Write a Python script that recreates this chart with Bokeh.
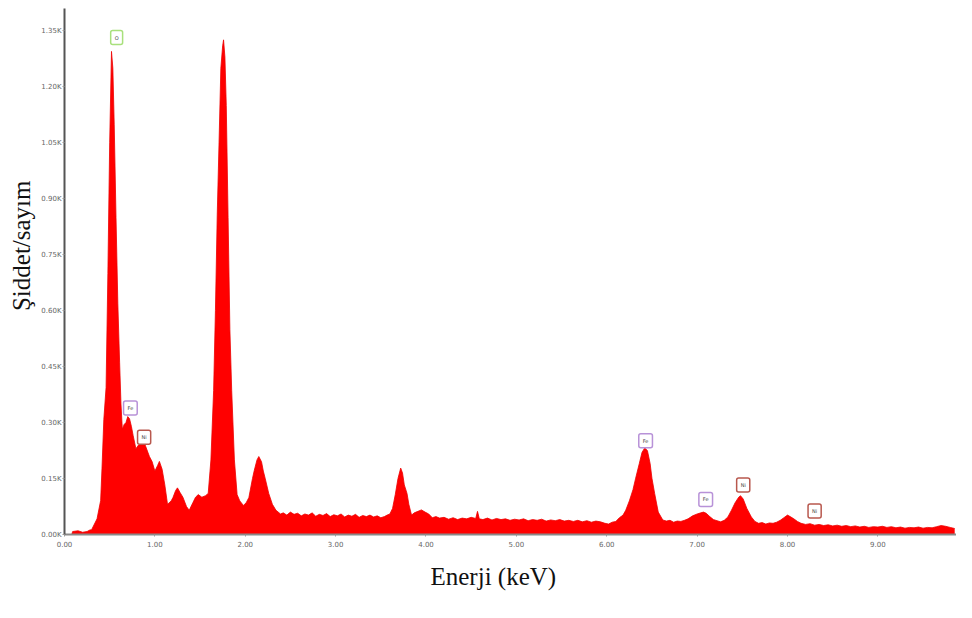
from bokeh.plotting import figure
from bokeh.models import Range1d, FixedTicker, Label, Title
from bokeh.embed import file_html
from bokeh.resources import INLINE

# ---- data ----
energy_kev = [
    0.00, 0.08, 0.09, 0.15, 0.20, 0.25, 0.28, 0.30, 0.36, 0.40, 0.415, 0.435, 0.46, 0.48,
    0.50, 0.52, 0.535, 0.55, 0.57, 0.59, 0.61, 0.625, 0.64, 0.66, 0.68, 0.70, 0.72, 0.74,
    0.76, 0.79, 0.82, 0.86, 0.88, 0.90, 0.94, 0.97, 1.00, 1.03, 1.05, 1.08, 1.11, 1.14,
    1.18, 1.20, 1.23, 1.25, 1.28, 1.31, 1.35, 1.38, 1.42, 1.45, 1.48, 1.52, 1.56, 1.59,
    1.62, 1.65, 1.67, 1.69, 1.71, 1.73, 1.75, 1.76, 1.775, 1.79, 1.81, 1.83, 1.85, 1.88,
    1.91, 1.94, 1.98, 2.01, 2.04, 2.08, 2.10, 2.13, 2.15, 2.18, 2.20, 2.22, 2.26, 2.30,
    2.34, 2.39, 2.42, 2.46, 2.50, 2.54, 2.58, 2.62, 2.66, 2.70, 2.74, 2.78, 2.82, 2.86,
    2.90, 2.94, 2.98, 3.02, 3.06, 3.10, 3.14, 3.18, 3.22, 3.26, 3.30, 3.34, 3.38, 3.42,
    3.46, 3.50, 3.54, 3.57, 3.60, 3.63, 3.66, 3.69, 3.72, 3.74, 3.76, 3.79, 3.81, 3.84,
    3.87, 3.91, 3.95, 3.99, 4.03, 4.07, 4.11, 4.15, 4.20, 4.25, 4.30, 4.35, 4.40, 4.45,
    4.50, 4.55, 4.57, 4.59, 4.63, 4.68, 4.73, 4.78, 4.83, 4.88, 4.93, 4.98, 5.03, 5.08,
    5.13, 5.18, 5.23, 5.28, 5.33, 5.38, 5.43, 5.48, 5.53, 5.58, 5.63, 5.68, 5.73, 5.78,
    5.83, 5.88, 5.93, 5.98, 6.02, 6.06, 6.10, 6.14, 6.18, 6.21, 6.25, 6.29, 6.32, 6.36,
    6.39, 6.42, 6.45, 6.48, 6.50, 6.53, 6.57, 6.62, 6.66, 6.70, 6.74, 6.78, 6.82, 6.86,
    6.90, 6.95, 7.00, 7.04, 7.07, 7.10, 7.14, 7.18, 7.22, 7.26, 7.30, 7.34, 7.38, 7.42,
    7.46, 7.48, 7.51, 7.55, 7.60, 7.64, 7.68, 7.72, 7.76, 7.80, 7.84, 7.88, 7.92, 7.96,
    8.00, 8.03, 8.07, 8.11, 8.15, 8.20, 8.25, 8.30, 8.35, 8.40, 8.45, 8.50, 8.55, 8.60,
    8.65, 8.70, 8.75, 8.80, 8.85, 8.90, 8.95, 9.00, 9.05, 9.10, 9.15, 9.20, 9.25, 9.30,
    9.35, 9.40, 9.45, 9.50, 9.55, 9.60, 9.65, 9.70, 9.75, 9.80, 9.85,
]
counts = [
    0, 0, 8, 10, 6, 8, 12, 13, 42, 91, 178, 308, 394, 700,
    1050, 1295, 1250, 1100, 850, 620, 460, 350, 282, 295, 300, 316, 310, 290,
    265, 230, 240, 245, 248, 235, 209, 195, 170, 185, 196, 175, 133, 81,
    90, 99, 118, 125, 112, 100, 75, 65, 85, 100, 107, 100, 104, 110,
    200, 386, 600, 856, 1050, 1250, 1310, 1326, 1280, 1150, 850, 550, 386, 200,
    107, 90, 78, 85, 99, 150, 172, 200, 209, 195, 170, 151, 110, 81,
    65, 55, 58, 52, 60, 54, 57, 50, 55, 52, 58, 49, 54, 51,
    56, 48, 53, 50, 55, 47, 52, 49, 54, 46, 51, 48, 52, 47,
    50, 45, 48, 52, 55, 70, 107, 150, 178, 165, 133, 110, 81, 52,
    58, 62, 66, 60, 55, 45, 48, 44, 46, 41, 45, 40, 44, 42,
    46, 43, 62, 42, 40, 44, 39, 43, 40, 42, 38, 41, 39, 42,
    37, 40, 38, 41, 36, 39, 37, 40, 36, 38, 35, 38, 34, 37,
    33, 36, 34, 30, 28, 33, 35, 45, 52, 65, 90, 120, 151, 190,
    220, 232, 225, 190, 151, 110, 60, 39, 36, 38, 33, 36, 35, 38,
    42, 50, 55, 58, 60, 57, 48, 40, 37, 34, 38, 47, 65, 85,
    100, 104, 95, 70, 47, 35, 30, 32, 28, 31, 30, 33, 38, 45,
    52, 48, 42, 35, 30, 27, 29, 25, 27, 24, 26, 23, 25, 22,
    24, 21, 23, 20, 22, 19, 21, 20, 22, 19, 21, 18, 20, 17,
    19, 18, 20, 17, 19, 18, 21, 24, 22, 19, 16,
]

peak_labels = ["O", "Fe", "Ni", "Fe", "Fe", "Ni", "Ni"]
peak_label_energy = [0.577, 0.729, 0.881, 6.43, 7.095, 7.51, 8.30]
peak_label_count = [1332, 339, 261, 251, 94, 133, 63]
element_colors = {"O": "#a8e07c", "Fe": "#b892d8", "Ni": "#b8584e"}

x_ticks = [0, 1, 2, 3, 4, 5, 6, 7, 8, 9]
x_tick_labels = ["0.00", "1.00", "2.00", "3.00", "4.00", "5.00", "6.00", "7.00", "8.00", "9.00"]
y_ticks = [0, 150, 300, 450, 600, 750, 900, 1050, 1200, 1350]
y_tick_labels = ["0.00K", "0.15K", "0.30K", "0.45K", "0.60K", "0.75K", "0.90K", "1.05K", "1.20K", "1.35K"]

x_title = "Enerji (keV)"
y_title = "Şiddet/sayım"

# ---- figure ----
p = figure(width=956, height=602, output_backend="svg", toolbar_location=None,
           x_range=Range1d(0, 9.87), y_range=Range1d(0, 1410),
           min_border_left=64, min_border_right=0, min_border_top=8, min_border_bottom=68)
p.outline_line_color = None
p.grid.visible = False
p.background_fill_color = "white"

p.varea(x=energy_kev, y1=[0] * len(counts), y2=counts, fill_color="#ff0000")
p.line(x=energy_kev, y=counts, line_color="#ee0000", line_width=0.8)

p.xaxis.ticker = FixedTicker(ticks=x_ticks)
p.xaxis.major_label_overrides = {t: l for t, l in zip(x_ticks, x_tick_labels)}
p.yaxis.ticker = FixedTicker(ticks=y_ticks)
p.yaxis.major_label_overrides = {t: l for t, l in zip(y_ticks, y_tick_labels)}

for ax in (p.xaxis, p.yaxis):
    ax.minor_tick_line_color = None
    ax.major_label_text_font = "DejaVu Sans"
    ax.major_label_text_font_size = "7px"
    ax.major_label_text_color = "#666666"
    ax.axis_line_width = 2
    ax.major_tick_in = 0
    ax.major_tick_out = 2
    ax.major_tick_line_color = "#999999"
p.yaxis.axis_line_color = "#555555"
p.xaxis.axis_line_color = "#8a8a8a"
p.yaxis.major_label_standoff = 1
p.xaxis.major_label_standoff = 4

p.add_layout(Title(text=x_title, align="left", offset=366, text_font="Liberation Serif",
                   text_font_size="25px", text_font_style="normal", text_color="#111111",
                   standoff=23), "below")

p.add_layout(Title(text=y_title, align="right", offset=172, text_font="Liberation Serif",
                   text_font_size="25px", text_font_style="normal", text_color="#111111",
                   standoff=8), "left")

for txt, ex, cy in zip(peak_labels, peak_label_energy, peak_label_count):
    p.add_layout(Label(x=ex, y=cy, text=txt, text_align="center", text_baseline="middle",
                       text_font="DejaVu Sans", text_font_size="5px", text_color="#444444",
                       border_line_color=element_colors[txt], border_line_width=1.5,
                       background_fill_color="white", padding=4, border_radius=2))

open("out.html", "w").write(file_html(p, INLINE))
